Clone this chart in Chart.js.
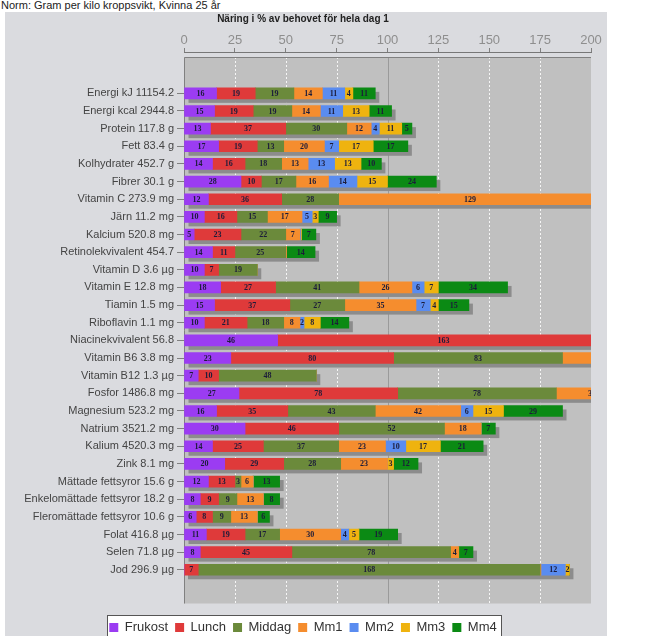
<!DOCTYPE html>
<html><head><meta charset="utf-8">
<script src="https://cdn.jsdelivr.net/npm/chart.js@4.4.1/dist/chart.umd.min.js"></script>
<style>
html,body{margin:0;padding:0;background:#fff;overflow:hidden;width:645px;height:636px;}
#norm{position:absolute;left:1px;top:-1px;font:11px 'Liberation Sans',Arial,sans-serif;color:#222;white-space:nowrap;}
#panel{position:absolute;left:5px;top:12px;width:602px;height:632px;background:#dadbdf;}
</style></head><body>
<div id="norm">Norm: Gram per kilo kroppsvikt, Kvinna 25 år</div>
<div id="panel"><canvas id="c"></canvas></div>
<script>
const categories = ["Energi kJ 11154.2","Energi kcal 2944.8","Protein 117.8 g","Fett 83.4 g","Kolhydrater 452.7 g","Fibrer 30.1 g","Vitamin C 273.9 mg","Järn 11.2 mg","Kalcium 520.8 mg","Retinolekvivalent 454.7","Vitamin D 3.6 µg","Vitamin E 12.8 mg","Tiamin 1.5 mg","Riboflavin 1.1 mg","Niacinekvivalent 56.8","Vitamin B6 3.8 mg","Vitamin B12 1.3 µg","Fosfor 1486.8 mg","Magnesium 523.2 mg","Natrium 3521.2 mg","Kalium 4520.3 mg","Zink 8.1 mg","Mättade fettsyror 15.6 g","Enkelomättade fettsyror 18.2 g","Fleromättade fettsyror 10.6 g","Folat 416.8 µg","Selen 71.8 µg","Jod 296.9 µg"];
const seriesNames = ["Frukost","Lunch","Middag","Mm1","Mm2","Mm3","Mm4"];
const frukost = [16,15,13,17,14,28,12,10,5,14,10,18,15,10,46,23,7,27,16,30,14,20,12,8,6,11,8,0];
const lunch   = [19,19,37,19,16,10,36,16,23,11,7,27,37,21,163,80,10,78,35,46,25,29,13,9,8,19,45,7];
const middag  = [19,19,30,13,18,17,28,15,22,25,19,41,27,18,0,83,48,78,43,52,37,28,3,9,9,17,78,168];
const mm1     = [14,14,12,20,13,16,129,17,7,0.4,0,26,35,8,0,40,0,35,42,18,23,23,6,13,13,30,4,0.4];
const mm2     = [11,11,4,7,13,14,0,5,0.4,0,0,6,7,2,0,0,0,0,6,0,10,0,0,0,0,4,0,12];
const mm3     = [4,13,11,17,13,15,0,3,0.4,0,0,7,4,8,0,0,0,0,15,0,17,3,0,0,0,5,0,2];
const mm4     = [11,11,5,17,10,24,0,9,7,14,0,34,15,14,0,0,0,0,29,7,21,12,13,8,6,19,7,0];
const xTickStep = 25, xMin = 0, xMax = 200;
const colors = ["#9b3cf2","#df3a3a","#6b8a3b","#f58d2e","#5a8cf0","#efb30f","#0b8a14"];

const seriesData = [frukost,lunch,middag,mm1,mm2,mm3,mm4];

const decor = {
  id: 'decor',
  beforeDraw(chart) {
    const {ctx, chartArea: a} = chart;
    ctx.save();
    const top = a.top + 5;
    ctx.fillStyle = '#c0c0c0';
    ctx.fillRect(a.left, top, a.right - a.left, a.bottom - top);
    const lg = chart.legend;
    if (lg && lg.legendHitBoxes && lg.legendHitBoxes.length) {
      const hb = lg.legendHitBoxes;
      const l = Math.round(hb[0].left - 2), last = hb[hb.length - 1];
      const r = Math.round(last.left + last.width + 4);
      const t = Math.round(hb[0].top - 6.5);
      ctx.fillStyle = '#fff';
      ctx.fillRect(l, t, r - l, 60);
      ctx.strokeStyle = '#555'; ctx.lineWidth = 1;
      ctx.strokeRect(l + 0.5, t + 0.5, r - l, 60);
    }
    ctx.restore();
  },
  beforeDatasetsDraw(chart) {
    const {ctx, chartArea: a, scales: {x}} = chart;
    const top = a.top + 5;
    ctx.save();
    x.ticks.forEach(t => {
      if (t.value <= xMin || t.value >= xMax) return;
      const px = Math.round(x.getPixelForValue(t.value)) + 0.5;
      ctx.beginPath();
      if (t.value === 100) { ctx.setLineDash([]); ctx.strokeStyle = '#9a9a9a'; }
      else { ctx.setLineDash([2, 2]); ctx.strokeStyle = 'rgba(255,255,255,0.85)'; }
      ctx.lineWidth = 1;
      ctx.moveTo(px, top); ctx.lineTo(px, a.bottom); ctx.stroke();
    });
    ctx.setLineDash([]);
    ctx.strokeStyle = '#808080';
    ctx.beginPath();
    ctx.moveTo(a.left + 0.5, a.bottom); ctx.lineTo(a.left + 0.5, top + 0.5); ctx.lineTo(a.right, top + 0.5);
    ctx.stroke();
    ctx.beginPath(); ctx.rect(a.left, top, a.right - a.left, a.bottom - top); ctx.clip();
    ctx.fillStyle = '#8c8c8c';
    const metas = chart.getSortedVisibleDatasetMetas();
    categories.forEach((c, i) => {
      let minX = Infinity, maxX = -Infinity, yc = 0, h = 0;
      metas.forEach(m => {
        const el = m.data[i]; if (!el) return;
        const p = el.getProps(['x','base','y','height'], true);
        minX = Math.min(minX, p.base, p.x); maxX = Math.max(maxX, p.base, p.x);
        yc = p.y; h = p.height;
      });
      if (maxX > minX) ctx.fillRect(minX + 4, yc - h / 2 + 4, maxX - minX, h);
    });
    ctx.restore();
  },
  afterDatasetsDraw(chart) {
    const {ctx, chartArea: a} = chart;
    ctx.save();
    ctx.beginPath(); ctx.rect(a.left, a.top, a.right - a.left, a.bottom - a.top); ctx.clip();
    ctx.font = 'bold 8px "Liberation Serif", "DejaVu Serif", serif';
    ctx.textAlign = 'center'; ctx.textBaseline = 'middle';
    ctx.fillStyle = '#1c1c3a';
    chart.getSortedVisibleDatasetMetas().forEach(m => {
      const ds = chart.data.datasets[m.index];
      m.data.forEach((el, j) => {
        const r = Math.round(ds.data[j].x);
        if (r < 1) return;
        const p = el.getProps(['x','base','y'], true);
        ctx.fillText(String(r), (p.x + p.base) / 2, p.y + 0.5);
      });
    });
    ctx.restore();
  }
};

Chart.defaults.font.family = "'Liberation Sans', Arial, sans-serif";
new Chart(document.getElementById('c'), {
  type: 'bar',
  data: {
    datasets: seriesNames.map((n, k) => ({
      label: n,
      data: seriesData[k].map((v, i) => ({x: v, y: i})),
      backgroundColor: colors[k],
      borderWidth: 0,
      barThickness: 11
    }))
  },
  options: {
    indexAxis: 'y',
    animation: false,
    responsive: true,
    maintainAspectRatio: false,
    layout: {padding: {left: 10, right: 16, top: 0, bottom: 0}},
    scales: {
      x: {
        position: 'top', stacked: true, min: xMin, max: xMax,
        ticks: {stepSize: xTickStep, color: '#8e8e8e', font: {size: 13}, padding: 0},
        grid: {drawOnChartArea: false, drawTicks: true, tickLength: 4, tickColor: '#808080'},
        border: {display: true, color: '#777'},
        afterFit(s) { s.height = 27; }
      },
      y: {
        type: 'linear', stacked: true, reverse: true, offset: false, min: -2.343, max: 28.911,
        afterBuildTicks(s) { s.ticks = categories.map((_, i) => ({value: i})); },
        ticks: {autoSkip: false, color: '#444', font: {size: 11}, padding: 3,
                callback: v => categories[v] ?? ''},
        grid: {offset: false, drawOnChartArea: false, drawTicks: true, tickLength: 7, tickColor: '#808080'},
        border: {display: false},
        afterFit(s) { s.width = 169; }
      }
    },
    plugins: {
      title: {display: true, text: 'Näring i % av behovet för hela dag 1', color: '#222',
              font: {size: 10, weight: 'bold'}, padding: {top: 1, bottom: 0}},
      legend: {
        position: 'bottom',
        title: {display: true, text: '', font: {size: 10, lineHeight: 1}, padding: {top: 0.5, bottom: 0}},
        labels: {boxWidth: 9, boxHeight: 9, padding: 7, color: '#333', font: {size: 13}}
      },
      tooltip: {enabled: false}
    }
  },
  plugins: [decor]
});
</script>
</body></html>
